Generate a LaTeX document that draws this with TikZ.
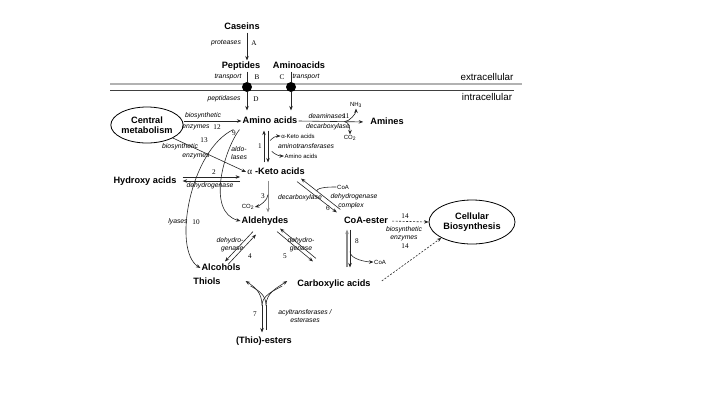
\documentclass[tikz,border=0pt]{standalone}
\usepackage{fontspec}
\setmainfont{Liberation Sans}
\newfontfamily\numfont{Liberation Serif}
\usetikzlibrary{arrows.meta, shapes.geometric, calc}

\begin{document}
\begin{tikzpicture}[
  x=1pt, y=-1pt,
  met/.style  = {font=\bfseries\fontsize{9.2}{10.5}\selectfont, inner sep=1pt,
                 text height=6.8pt, text depth=1.9pt},
  pool/.style = {ellipse, draw, line width=0.8pt, align=center, inner sep=0pt,
                 font=\bfseries\fontsize{9.2}{10.5}\selectfont},
  enz/.style  = {font=\itshape\fontsize{6.8}{7.8}\selectfont, inner sep=0.5pt,
                 align=center},
  num/.style  = {font=\numfont\fontsize{7.2}{8}\selectfont, inner sep=0.5pt},
  cof/.style  = {font=\fontsize{6}{7}\selectfont, inner sep=0.5pt},
  side/.style = {font=\fontsize{9.8}{11}\selectfont, inner sep=1pt},
  mdot/.style = {circle, fill=black, inner sep=0pt, minimum size=10pt},
  ln/.style   = {line width=0.6pt, black!85},
  arr/.style  = {ln, -{Stealth[length=4.5pt, width=3.5pt]}},
  dsh/.style  = {arr, dash pattern=on 2pt off 1.5pt},
]
\useasboundingbox (0,0) rectangle (720,405);

% membrane
\draw[line width=1.6pt, black!30] (110,84) -- (522,84);
\draw[line width=0.7pt, black!75] (110,90.5) -- (514,90.5);
\node[side] (ext) at (487,77) {extracellular};
\node[side] (int) at (487,97) {intracellular};

% metabolites
\node[met] (cas) at (242,27) {Caseins};
\node[met] (pep) at (241,66) {Peptides};
\node[met] (ami) at (299,66) {Aminoacids};
\node[mdot] (dP) at (247,87) {};
\node[mdot] (dA) at (291,87) {};
\node[met] (aa) at (270,121) {Amino acids};
\node[pool, minimum width=72pt, minimum height=36pt] (cm) at (147,125) {Central\\metabolism};
\node[met] (am) at (387,122) {Amines};
\node[met] (hy) at (145,181) {Hydroxy acids};
\node[met] (ka) at (276,172) {{\numfont\mdseries α}\hspace{3pt}-Keto acids};
\node[met] (ald) at (265,221) {Aldehydes};
\node[met] (coa) at (366,221) {CoA-ester};
\node[pool, minimum width=86pt, minimum height=44pt] (cb) at (472,222) {Cellular\\Biosynthesis};
\node[met] (alc) at (221,268) {Alcohols};
\node[met] (thi) at (207,282) {Thiols};
\node[met] (car) at (334,284) {Carboxylic acids};
\node[met] (est) at (264,341) {(Thio)-esters};

% cofactors
\node[cof] (kx) at (298,136) {α-Keto acids};
\node[cof] (ax) at (301,156) {Amino acids};
\node[cof] (nh) at (356,105) {NH\textsubscript{3}};
\node[cof] (co1) at (350,138) {CO\textsubscript{2}};
\node[cof] (co2) at (248,207) {CO\textsubscript{2}};
\node[cof] (coa1) at (343,187) {CoA};
\node[cof] (coa2) at (380,262) {CoA};

% enzymes and numbers
\node[enz] (lA) at (226,43) {proteases};
\node[num] (nA) at (254,43) {A};
\node[enz] (lB) at (228,77) {transport};
\node[num] (nB) at (257,77) {B};
\node[num] (nC) at (282,77) {C};
\node[enz] (lC) at (306,77) {transport};
\node[enz] (lD) at (224,99) {peptidases};
\node[num] (nD) at (256,99) {D};
\node[enz] (l12a) at (203,116) {biosynthetic};
\node[enz] (l12b) at (196,127) {enzymes};
\node[num] (n12) at (217,127) {12};
\node[num] (n13) at (204,140) {13};
\node[enz] (l13a) at (180,147) {biosynthetic};
\node[enz] (l13b) at (196,156) {enzymes};
\node[num] (n9) at (234,133) {9};
\node[enz] (l9) at (239,153) {aldo-\\lases};
\node[num] (n1) at (260,146) {1};
\node[enz] (l1) at (306,146) {aminotransferases};
\node[enz] (l11a) at (327,116) {deaminases};
\node[num] (n11) at (346,116) {11};
\node[enz] (l11b) at (328,127) {decarboxylase};
\node[num] (n2) at (214,172) {2};
\node[enz] (l2) at (210,186) {dehydrogenase};
\node[num] (n3) at (263,196) {3};
\node[enz] (l3) at (300,198) {decarboxylase};
\node[enz] (l6a) at (354,197) {dehydrogenase};
\node[enz] (l6b) at (351,206) {complex};
\node[num] (n6) at (328,208) {6};
\node[enz] (l10) at (178,222) {lyases};
\node[num] (n10) at (196,222) {10};
\node[num] (n14a) at (405,216) {14};
\node[enz] (l14) at (404,234) {biosynthetic\\enzymes};
\node[num] (n14b) at (405,246) {14};
\node[enz, align=right] (l4) at (230,245) {dehydro-\\genase};
\node[num] (n4) at (250,256) {4};
\node[enz] (l5) at (301,245) {dehydro-\\genase};
\node[num] (n5) at (285,256) {5};
\node[num] (n8) at (357,241) {8};
\node[num] (n7) at (255,314) {7};
\node[enz] (l7) at (305,316) {acyltransferases /\\esterases};

% uptake
\draw[arr] (cas.south -| dP) -- (pep.north -| dP);
\draw[ln] (pep.south -| dP) -- (dP);
\draw[arr, shorten >=5pt] (dP) -- (aa.north -| dP);
\draw[ln] (ami.south -| dA) -- (dA);
\draw[arr, shorten >=5pt] (dA) -- (aa.north -| dA);

% central metabolism
\draw[arr] (cm.east |- aa.west) -- (aa.west);
\draw[arr] (cm.south east) -- (ka.west);

% 9, 10
\draw[arr] ($(aa.south west)+(-8,3)$) .. controls (190,150) and (172,250) .. (alc.west);
\draw[arr] ($(aa.south west)+(-2,3)$) .. controls (224,150) and (206,212) .. (ald.west);

% 1
\draw[arr, shorten <=4pt, shorten >=4pt] ($(ka.north)+(-12,0)$) -- ($(aa.south)+(-6,0)$);
\draw[arr, shorten <=4pt, shorten >=4pt] ($(aa.south)+(-2,0)$) -- ($(ka.north)+(-8,0)$);
\coordinate (t1) at ($(aa.south)!0.35!(ka.north)+(-2,0)$);
\coordinate (t2) at ($(aa.south)!0.62!(ka.north)+(-2,0)$);
\draw[arr] (t1) .. controls +(3,-3) and +(-5,0) .. (kx.west);
\draw[arr] (t2) .. controls +(3,3) and +(-5,0) .. (ax.west);

% 11
\draw[arr, shorten >=6pt] (aa.east) -- (am.west);
\coordinate (j11) at ($(aa.east)!0.65!(am.west)$);
\draw[arr] (j11) .. controls +(5,0) and +(0,5) .. (nh.south);
\draw[arr] (j11) .. controls +(5,0) and +(0,-5) .. (co1.north);

% 2
\draw[arr, shorten <=5pt, shorten >=6pt] ($(hy.east)+(0,-4)$) -- ($(hy.east -| ka.west)+(0,-4)$);
\draw[arr, shorten <=6pt, shorten >=5pt] (hy.east -| ka.west) -- (hy.east);

% 3
\coordinate (k3) at ($(ka.south)+(-8,0)$);
\draw[arr, black!45, shorten <=3pt, shorten >=3pt] (k3) -- (k3 |- ald.north);
\coordinate (j3) at ($(k3)!0.45!(k3 |- ald.north)$);
\draw[arr] (j3) .. controls +(0,6) and +(4,-1) .. (co2.east);

% 6
\draw[arr] ($(ka.south)+(21,4)$) -- ($(coa.north west)+(-6,-3)$);
\draw[arr] ($(coa.north west)+(-2.5,-6)$) -- ($(ka.south)+(25,1)$);
\coordinate (j6) at ($($(coa.north west)+(-2.5,-6)$)!0.6!($(ka.south)+(25,1)$)$);
\draw[ln] (coa1.west) .. controls +(-5,0) and +(1,-4) .. (j6);

% 4, 5
\draw[arr] ($(ald.south)+(-12,5)$) -- ($(alc.north)+(4,-1)$);
\draw[arr] ($(alc.north)+(7,2)$) -- ($(ald.south)+(-9,8)$);
\draw[arr] ($(ald.south)+(12,5)$) -- ($(car.north)+(-21,-17)$);
\draw[arr] ($(car.north)+(-18,-20)$) -- ($(ald.south)+(15,2)$);

% 8
\coordinate (c8a) at ($(coa.south)+(-19,3)$);
\coordinate (c8b) at ($(coa.south)+(-16,3)$);
\draw[arr, line width=1.2pt, black!45, shorten <=11pt] (c8a |- car.north) -- (c8a);
\draw[arr, shorten >=11pt] (c8b) -- (c8b |- car.north);
\coordinate (j8) at ($(c8b)!0.45!(c8b |- car.north)$);
\draw[arr] (j8) .. controls +(0,8) and +(-6,0) .. (coa2.west);

% 14
\draw[dsh, shorten <=3pt] (coa.east) -- (cb.west);
\draw[dsh] ($(car.east)+(10,-3)$) -- (cb.south west);

% 7
\coordinate (v7a) at ($(est.north)+(-2,-30)$);
\coordinate (v7b) at ($(est.north)+(2,-30)$);
\draw[arr, shorten >=3pt] (v7a) -- (v7a |- est.north);
\draw[ln, shorten >=5pt] (v7b) -- (v7b |- est.north);
\draw[arr] (v7a) .. controls +(0,-13) and +(9,6) .. ($(alc.east)+(4,13)$);
\draw[ln] (v7b) .. controls +(0,-10) and +(9,5) .. ($(alc.east)+(9,18)$);
\draw[arr] (v7b) .. controls +(0,-13) and +(-9,6) .. ($(car.west)+(-9,-3)$);
\draw[ln] (v7a) .. controls +(0,-10) and +(-9,5) .. ($(car.west)+(-14,2)$);

\end{tikzpicture}
\end{document}
